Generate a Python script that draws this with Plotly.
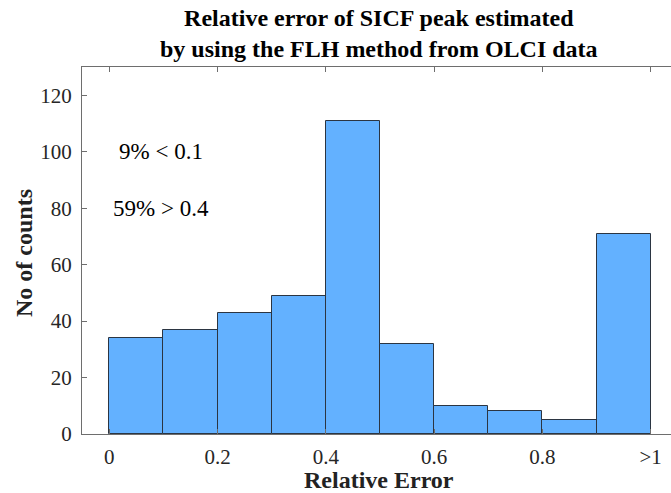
import plotly.graph_objects as go

bin_centers = [0.05, 0.15, 0.25, 0.35, 0.45, 0.55, 0.65, 0.75, 0.85, 0.95]
counts = [34, 37, 43, 49, 111, 32, 10, 8, 5, 71]
bin_width = 0.1
x_tickvals = [0, 0.2, 0.4, 0.6, 0.8, 1.0]
x_ticktext = ["0", "0.2", "0.4", "0.6", "0.8", ">1"]
y_tickvals = [0, 20, 40, 60, 80, 100, 120]
notes = ["9% < 0.1", "59% > 0.4"]
note_y = [100, 80]
note_x = 0.095

FONT = "Liberation Serif, Times New Roman, serif"
AX = "#6e6e6e"

fig = go.Figure()
fig.add_trace(go.Bar(
    x=bin_centers, y=counts, width=[bin_width] * len(counts),
    marker=dict(color="rgb(99,177,255)", line=dict(color="#2b3542", width=1)),
    showlegend=False, hoverinfo="skip"))

for t, yv in zip(notes, note_y):
    fig.add_annotation(x=note_x, y=yv, text=t, showarrow=False,
                       xanchor="center", yanchor="middle",
                       font=dict(family=FONT, size=23, color="#000"))

fig.add_annotation(xref="paper", yref="paper", x=0.505, y=1 + (67 - 34) / 367,
                   text="<b>Relative error of SICF peak estimated<br>by using the FLH method from OLCI data</b>",
                   showarrow=False, xanchor="center", yanchor="middle",
                   font=dict(family=FONT, size=24, color="#000"))
fig.add_annotation(xref="paper", yref="paper", x=0.505, y=-(480 - 434) / 367,
                   text="<b>Relative Error</b>", showarrow=False,
                   xanchor="center", yanchor="middle",
                   font=dict(family=FONT, size=24, color="#222"))
fig.add_annotation(xref="paper", yref="paper", x=(24 - 82) / 589, y=(434 - 253) / 367,
                   text="<b>No of counts</b>", showarrow=False, textangle=-90,
                   xanchor="center", yanchor="middle",
                   font=dict(family=FONT, size=24, color="#222"))

fig.update_layout(
    width=671, height=493,
    margin=dict(l=82, r=0, t=67, b=59),
    plot_bgcolor="white", paper_bgcolor="white",
    bargap=0,
    font=dict(family=FONT, size=21, color="#262626"),
    xaxis=dict(range=[-0.0504, 1.0375], tickvals=x_tickvals, ticktext=x_ticktext,
               showgrid=False, zeroline=False, showline=True, linecolor=AX, linewidth=1,
               mirror="ticks", ticks="inside", ticklen=5, tickcolor=AX,
               ticklabelstandoff=4,
               tickfont=dict(family=FONT, size=21, color="#262626")),
    yaxis=dict(range=[0, 130], tickvals=y_tickvals,
               showgrid=False, zeroline=False, showline=True, linecolor=AX, linewidth=1,
               ticks="inside", ticklen=5, tickcolor=AX,
               ticklabelstandoff=5,
               tickfont=dict(family=FONT, size=21, color="#262626")),
)

fig.write_html("out.html", config={"displayModeBar": False},
               post_script="document.body.style.margin='0';document.body.style.padding='0';document.documentElement.style.overflow='hidden';")
